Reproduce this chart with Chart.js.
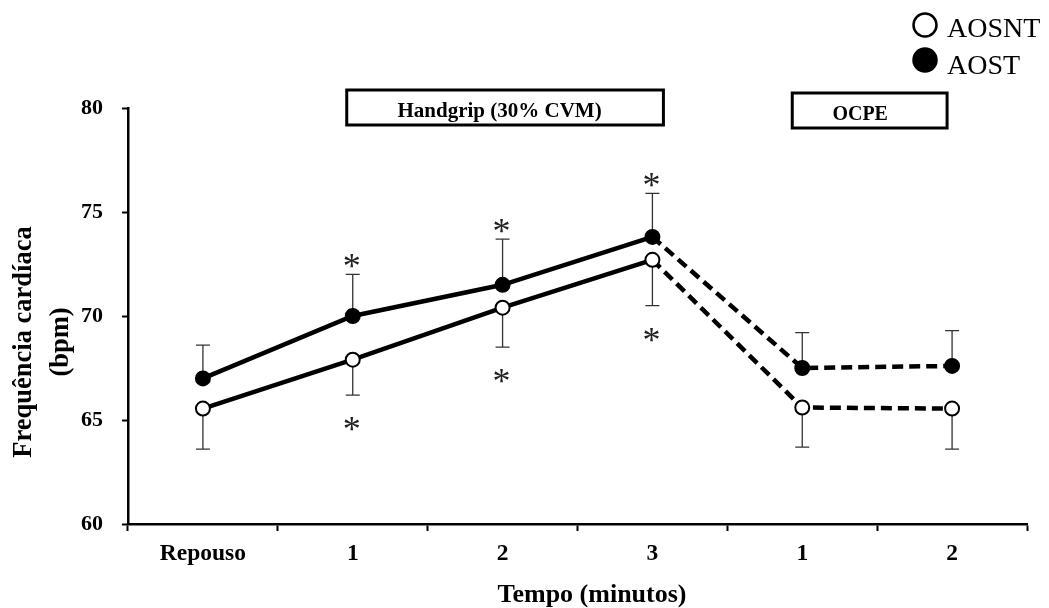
<!DOCTYPE html>
<html>
<head>
<meta charset="utf-8">
<script src="https://cdn.jsdelivr.net/npm/chart.js@4.4.1/dist/chart.umd.min.js"></script>
<style>
  html, body { margin: 0; padding: 0; background: #fff; }
  #wrap { width: 1049px; height: 608px; position: relative; }
</style>
</head>
<body>
<div id="wrap"><canvas id="c"></canvas></div>
<script>
// ---- data ----
const categories = ['Repouso', '1', '2', '3', '1', '2'];
const aostMean   = [67.0, 70.0, 71.5, 73.8, 67.5, 67.6];
const aostErr    = [1.6, 2.0, 2.2, 2.1, 1.7, 1.7];      // upper bars
const aosntMean  = [65.55, 67.9, 70.4, 72.7, 65.6, 65.55];
const aosntErr   = [1.95, 1.7, 1.9, 2.2, 1.9, 1.95];    // lower bars
const aostSig    = [false, true, true, true, false, false];
const aosntSig   = [false, true, true, true, false, false];
const yTicks     = [60, 65, 70, 75, 80];
const seriesNames = ['AOSNT', 'AOST'];
const phaseLabels = ['Handgrip (30% CVM)', 'OCPE'];
const yTitleLines = ['Frequência cardíaca', '(bpm)'];
const xTitle = 'Tempo (minutos)';

const SERIF = '"Liberation Serif", "Times New Roman", serif';
const dashAfter = 3;

const segStyle = {
  borderDash: ctx => ctx.p0DataIndex >= dashAfter ? [11, 6] : undefined
};

const overlay = {
  id: 'overlay',
  beforeDatasetsDraw(chart) {
    const ctx = chart.ctx, x = chart.scales.x, y = chart.scales.y;
    ctx.save();
    ctx.strokeStyle = '#333';
    ctx.lineWidth = 1.3;
    const cap = 7;
    const drawBar = (i, v0, v1) => {
      const px = x.getPixelForValue(i);
      const y0 = y.getPixelForValue(v0), y1 = y.getPixelForValue(v1);
      ctx.beginPath();
      ctx.moveTo(px, y0); ctx.lineTo(px, y1);
      ctx.moveTo(px - cap, y1); ctx.lineTo(px + cap, y1);
      ctx.stroke();
    };
    categories.forEach((c, i) => {
      drawBar(i, aostMean[i], aostMean[i] + aostErr[i]);
      drawBar(i, aosntMean[i], aosntMean[i] - aosntErr[i]);
    });
    ctx.restore();
  },
  afterDatasetsDraw(chart) {
    const ctx = chart.ctx, x = chart.scales.x, y = chart.scales.y;
    ctx.save();
    // asterisks
    const fs = 36;
    ctx.font = fs + 'px ' + SERIF;
    ctx.fillStyle = '#222';
    ctx.textAlign = 'center';
    ctx.textBaseline = 'alphabetic';
    const k = 0.47 * fs;
    categories.forEach((c, i) => {
      const px = x.getPixelForValue(i);
      if (aostSig[i]) {
        const top = y.getPixelForValue(aostMean[i] + aostErr[i]);
        ctx.fillText('*', px - 1, top - 13 + k);
      }
      if (aosntSig[i]) {
        const bot = y.getPixelForValue(aosntMean[i] - aosntErr[i]);
        ctx.fillText('*', px - 1, bot + 29 + k);
      }
    });
    // phase boxes
    ctx.lineWidth = 3;
    ctx.strokeStyle = '#000';
    ctx.fillStyle = '#000';
    const box = (l, r, t, b, label, tx, fsz) => {
      ctx.strokeRect(l, t, r - l, b - t);
      ctx.font = 'bold ' + fsz + 'px ' + SERIF;
      ctx.textAlign = 'center';
      ctx.textBaseline = 'alphabetic';
      ctx.fillText(label, tx, b - 8);
    };
    const x1 = x.getPixelForValue(1), x3 = x.getPixelForValue(3);
    const x4 = x.getPixelForValue(4), x5 = x.getPixelForValue(5);
    box(x1 - 6, x3 + 11, 90, 125, phaseLabels[0], (x1 + x3) / 2 - 3, 21);
    box(x4 - 10, x5 - 5, 93, 128, phaseLabels[1], (x4 + x5) / 2 - 17, 20);
    ctx.restore();
  },
  afterDraw(chart) {
    const ctx = chart.ctx;
    ctx.save();
    ctx.fillStyle = '#000';
    // x title
    ctx.font = 'bold 26px ' + SERIF;
    ctx.textAlign = 'center';
    ctx.textBaseline = 'alphabetic';
    ctx.fillText(xTitle, 592, 602);
    // y title
    ctx.save();
    ctx.translate(0, 342);
    ctx.rotate(-Math.PI / 2);
    ctx.font = 'bold 26.5px ' + SERIF;
    ctx.textAlign = 'center';
    ctx.textBaseline = 'middle';
    ctx.fillText(yTitleLines[0], 0, 24);
    ctx.fillText(yTitleLines[1], 0, 61);
    ctx.restore();
    // legend
    ctx.font = '28px ' + SERIF;
    ctx.textAlign = 'left';
    ctx.textBaseline = 'alphabetic';
    const items = [
      { name: seriesNames[0], fill: '#fff', cy: 25, base: 37 },
      { name: seriesNames[1], fill: '#000', cy: 60, base: 74 }
    ];
    items.forEach(it => {
      ctx.beginPath();
      ctx.arc(925, it.cy, 11.5, 0, Math.PI * 2);
      ctx.fillStyle = it.fill;
      ctx.fill();
      ctx.lineWidth = 2.5;
      ctx.strokeStyle = '#000';
      ctx.stroke();
      ctx.fillStyle = '#000';
      ctx.fillText(it.name, 947, it.base);
    });
    ctx.restore();
  }
};

new Chart(document.getElementById('c'), {
  type: 'line',
  data: {
    labels: categories,
    datasets: [
      {
        label: seriesNames[1],
        data: aostMean,
        borderColor: '#000',
        borderWidth: 4.5,
        pointRadius: 7,
        pointBorderWidth: 2,
        pointBackgroundColor: '#000',
        pointBorderColor: '#000',
        tension: 0,
        segment: segStyle
      },
      {
        label: seriesNames[0],
        data: aosntMean,
        borderColor: '#000',
        borderWidth: 4.5,
        pointRadius: 7,
        pointBorderWidth: 2,
        pointBackgroundColor: '#fff',
        pointBorderColor: '#000',
        tension: 0,
        segment: segStyle
      }
    ]
  },
  options: {
    responsive: true,
    maintainAspectRatio: false,
    animation: false,
    layout: { padding: { top: 108, right: 22, left: 0, bottom: 0 } },
    plugins: { legend: { display: false }, tooltip: { enabled: false } },
    scales: {
      x: {
        type: 'category',
        offset: true,
        afterFit(s) { s.height = 84; },
        grid: {
          offset: true,
          drawOnChartArea: false,
          drawTicks: true,
          tickLength: 7,
          tickColor: '#000',
          tickWidth: 2
        },
        border: { display: true, color: '#000', width: 2.5 },
        ticks: {
          color: '#000',
          padding: 9,
          maxRotation: 0,
          autoSkip: false,
          font: { family: SERIF, size: 23.5, weight: 'bold' }
        }
      },
      y: {
        min: 60,
        max: 80,
        afterFit(s) { s.width = 128; },
        afterBuildTicks(s) { s.ticks = yTicks.map(v => ({ value: v })); },
        grid: {
          drawOnChartArea: false,
          drawTicks: true,
          tickLength: 6,
          tickColor: '#000',
          tickWidth: 2
        },
        border: { display: true, color: '#000', width: 2.5 },
        ticks: {
          color: '#000',
          padding: 19,
          font: { family: SERIF, size: 22, weight: 'bold' }
        }
      }
    }
  },
  plugins: [overlay]
});
</script>
</body>
</html>
